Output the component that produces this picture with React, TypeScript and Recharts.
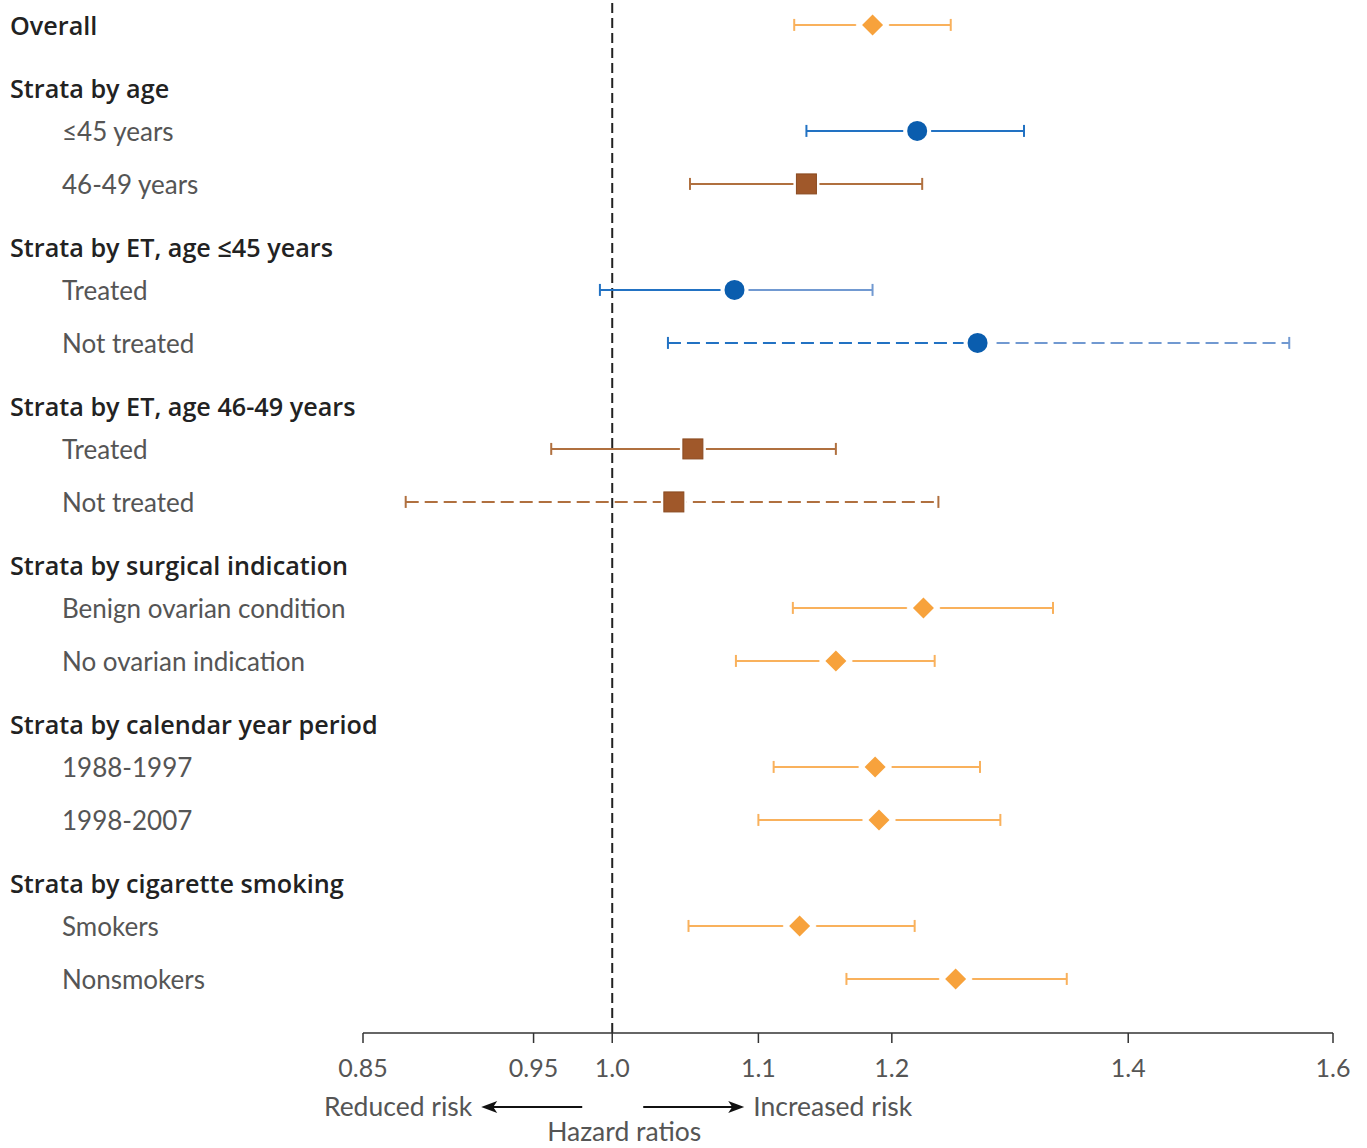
import React from "react";
import {
  ScatterChart,
  Scatter,
  XAxis,
  YAxis,
  ReferenceLine,
} from "recharts";

// rows, top to bottom
const LABELS = [
  "Overall",
  "Strata by age",
  "≤45 years",
  "46-49 years",
  "Strata by ET, age ≤45 years",
  "Treated",
  "Not treated",
  "Strata by ET, age 46-49 years",
  "Treated",
  "Not treated",
  "Strata by surgical indication",
  "Benign ovarian condition",
  "No ovarian indication",
  "Strata by calendar year period",
  "1988-1997",
  "1998-2007",
  "Strata by cigarette smoking",
  "Smokers",
  "Nonsmokers",
];
const KINDS = [
  "total", "header", "item", "item", "header", "item", "item", "header", "item", "item",
  "header", "item", "item", "header", "item", "item", "header", "item", "item",
];
const HR = [1.185, null, 1.22, 1.135, null, 1.083, 1.269, null, 1.054, 1.041, null, 1.225, 1.157, null, 1.187, 1.19, null, 1.13, 1.251];
const LOWER = [1.126, null, 1.135, 1.052, null, 0.992, 1.037, null, 0.961, 0.874, null, 1.125, 1.084, null, 1.111, 1.1, null, 1.051, 1.165];
const UPPER = [1.247, null, 1.308, 1.224, null, 1.185, 1.555, null, 1.157, 1.237, null, 1.333, 1.234, null, 1.271, 1.288, null, 1.218, 1.345];
// age stratum of the row (null = all ages)
const AGE_GROUP = [null, null, "le45", "46to49", null, "le45", "le45", null, "46to49", "46to49", null, null, null, null, null, null, null, null, null];
// ET status (null = not stratified by ET)
const ET_STATUS = [null, null, null, null, null, "treated", "not", null, "treated", "not", null, null, null, null, null, null, null, null, null];

const X_TICKS = [0.85, 0.95, 1.0, 1.1, 1.2, 1.4, 1.6];
const X_DOMAIN = [0.85, 1.6];

const STYLE: Record<string, { marker: string; line: string; lineRight: string }> = {
  all: { marker: "#F7A23C", line: "#F9B15C", lineRight: "#F9B15C" },
  le45: { marker: "#0A5DAE", line: "#2272C3", lineRight: "#2272C3" },
  le45et: { marker: "#0A5DAE", line: "#2272C3", lineRight: "#7199D1" },
  "46to49": { marker: "#A0582A", line: "#B0703F", lineRight: "#B0703F" },
};

const HEADER_FONT = "'Open Sans', Lato, sans-serif";
const BODY_FONT = "Lato, 'Open Sans', sans-serif";

// vertical layout: gaps between rows in row units
const POS: number[] = [];
KINDS.forEach((k, i) => {
  if (i === 0) POS.push(0);
  else if (k === "header") POS.push(POS[i - 1] + 1.19);
  else if (KINDS[i - 1] === "header") POS.push(POS[i - 1] + 0.81);
  else POS.push(POS[i - 1] + 1);
});

const styleKey = (i: number) => {
  const g = AGE_GROUP[i];
  if (!g) return "all";
  if (g === "le45" && ET_STATUS[i]) return "le45et";
  return g;
};

const rows = LABELS.map((label, i) => ({
  i,
  label,
  kind: KINDS[i],
  y: POS[i],
  hr: HR[i],
  lo: LOWER[i],
  hi: UPPER[i],
  style: styleKey(i),
  dashed: ET_STATUS[i] === "not",
})).filter((r) => r.hr != null);

const points = rows.map((r) => ({ x: r.hr, y: r.y, style: r.style, group: AGE_GROUP[r.i] }));

function capShape(color: string) {
  return (props: any) => {
    const { cx, cy, payload } = props;
    if (!payload || !payload.cap) return <g />;
    return <line x1={cx} x2={cx} y1={cy - 6} y2={cy + 6} stroke={color} strokeWidth={2} />;
  };
}

function Marker(props: any) {
  const { cx, cy, payload } = props;
  const color = STYLE[payload.style].marker;
  if (payload.group === "le45") {
    return (
      <g>
        <circle cx={cx} cy={cy} r={14} fill="#fff" />
        <circle cx={cx} cy={cy} r={10} fill={color} />
      </g>
    );
  }
  if (payload.group === "46to49") {
    return (
      <g>
        <rect x={cx - 13} y={cy - 13} width={26} height={26} fill="#fff" />
        <rect x={cx - 10} y={cy - 10} width={20} height={20} fill={color} stroke="#8A4A20" strokeWidth={1} />
      </g>
    );
  }
  const d = (s: number) => `M${cx},${cy - s} L${cx + s},${cy} L${cx},${cy + s} L${cx - s},${cy} Z`;
  return (
    <g>
      <path d={d(17)} fill="#fff" />
      <path d={d(10.5)} fill={color} />
    </g>
  );
}

function RowLabel(props: any) {
  const { y, payload } = props;
  const idx = POS.findIndex((p) => Math.abs(p - payload.value) < 1e-6);
  if (idx < 0) return <g />;
  const item = KINDS[idx] === "item";
  return (
    <text
      x={item ? 62 : 10}
      y={y + 1}
      dy="0.35em"
      fill={item ? "#555" : "#222"}
      fontSize={item ? 26 : 25.2}
      fontWeight={item ? 400 : 600}
      fontFamily={item ? BODY_FONT : HEADER_FONT}
      textAnchor="start"
    >
      {LABELS[idx]}
    </text>
  );
}

function AxisNote(props: any) {
  const { x, y, width } = props.viewBox;
  const x1 = x + (width * Math.log(1 / X_DOMAIN[0])) / Math.log(X_DOMAIN[1] / X_DOMAIN[0]);
  const ay = y + 74;
  const common = { fill: "#555", fontSize: 26.5, fontFamily: BODY_FONT };
  return (
    <g>
      <text x={x1 - 140} y={ay} dy="0.35em" textAnchor="end" {...common}>
        Reduced risk
      </text>
      <line x1={x1 - 30} x2={x1 - 120} y1={ay} y2={ay} stroke="#111" strokeWidth={2} />
      <path d={`M${x1 - 131},${ay} L${x1 - 115},${ay - 6} L${x1 - 119},${ay} L${x1 - 115},${ay + 6} Z`} fill="#111" />
      <line x1={x1 + 31} x2={x1 + 121} y1={ay} y2={ay} stroke="#111" strokeWidth={2} />
      <path d={`M${x1 + 132},${ay} L${x1 + 116},${ay - 6} L${x1 + 120},${ay} L${x1 + 116},${ay + 6} Z`} fill="#111" />
      <text x={x1 + 141} y={ay} dy="0.35em" textAnchor="start" {...common}>
        Increased risk
      </text>
      <text x={x1 + 12} y={y + 99} dy="0.35em" textAnchor="middle" {...common}>
        Hazard ratios
      </text>
    </g>
  );
}

export default function App() {
  const yMin = -0.47;
  const yMax = POS[POS.length - 1] + 1.02;
  return (
    <div style={{ position: "absolute", left: 0, top: 0, background: "#fff" }}>
      <ScatterChart width={1367} height={1148} margin={{ top: 0, right: 34, bottom: 0, left: 0 }}>
        <XAxis
          type="number"
          dataKey="x"
          scale="log"
          domain={X_DOMAIN}
          allowDataOverflow
          ticks={X_TICKS}
          interval={0}
          tickFormatter={(v: number) => (v === 1 ? "1.0" : String(v))}
          height={115}
          tickSize={10}
          tickMargin={16}
          axisLine={{ stroke: "#333", strokeWidth: 1.5 }}
          tickLine={{ stroke: "#333", strokeWidth: 1.5 }}
          tick={{ fill: "#555", fontSize: 25, fontFamily: BODY_FONT }}
          label={<AxisNote />}
        />
        <YAxis
          type="number"
          dataKey="y"
          reversed
          domain={[yMin, yMax]}
          allowDataOverflow
          ticks={POS}
          interval={0}
          width={363}
          axisLine={false}
          tickLine={false}
          tick={<RowLabel />}
        />
        <ReferenceLine x={1} stroke="#222" strokeWidth={2} strokeDasharray="10 5" />
        {rows.map((r) => {
          const st = STYLE[r.style];
          const dash = r.dashed ? "13 6" : undefined;
          return (
            <React.Fragment key={r.i}>
              <Scatter
                data={[
                  { x: r.lo, y: r.y, cap: true },
                  { x: r.hr, y: r.y, cap: false },
                ]}
                fill={st.line}
                line={{ stroke: st.line, strokeWidth: 2, strokeDasharray: dash }}
                shape={capShape(st.line)}
                isAnimationActive={false}
              />
              <Scatter
                data={[
                  { x: r.hr, y: r.y, cap: false },
                  { x: r.hi, y: r.y, cap: true },
                ]}
                fill={st.lineRight}
                line={{ stroke: st.lineRight, strokeWidth: 2, strokeDasharray: dash }}
                shape={capShape(st.lineRight)}
                isAnimationActive={false}
              />
            </React.Fragment>
          );
        })}
        <Scatter data={points} shape={<Marker />} isAnimationActive={false} />
      </ScatterChart>
    </div>
  );
}
